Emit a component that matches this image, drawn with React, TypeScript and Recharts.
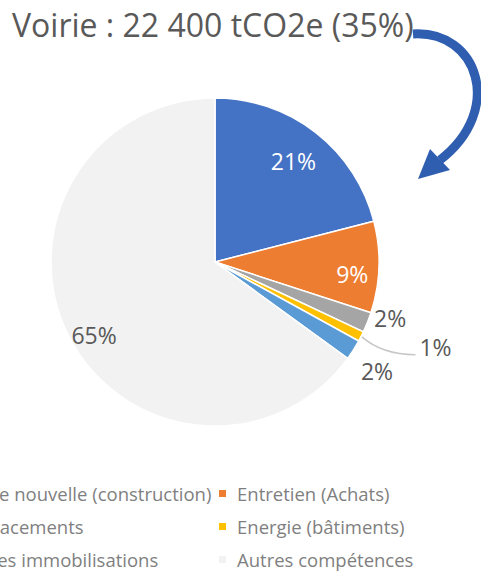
import { PieChart, Pie, Cell } from "recharts";

const categories = [
    "Voirie nouvelle (construction)",
    "Entretien (Achats)",
    "Déplacements",
    "Energie (bâtiments)",
    "Autres immobilisations",
    "Autres compétences",
];

const shares = [21, 9, 2, 1, 2, 65];

const colors = ["#4472C4", "#ED7D31", "#A5A5A5", "#FFC000", "#5B9BD5", "#F2F2F2"];

const title = "Voirie : 22 400 tCO2e (35%)";

const data = categories.map((name, i) => ({ name, value: shares[i] }));

// label placement per slice (radius factor, angle nudge in degrees, colour)
const labelStyle = [
    { r: 0.78, da: 0, fill: "#ffffff" },
    { r: 0.84, da: -3, fill: "#ffffff" },
    { r: 1.12, da: 4, fill: "#595959" },
    { r: 1.44, da: 6, fill: "#595959" },
    { r: 1.19, da: -1.5, fill: "#595959" },
    { r: 0.86, da: 4, fill: "#595959" },
];

const RAD = Math.PI / 180;

function renderLabel(props: any) {
    const { cx, cy, midAngle, outerRadius, index, value } = props;
    const s = labelStyle[index];
    const a = (midAngle + s.da) * RAD;
    const x = cx + outerRadius * s.r * Math.cos(a);
    const y = cy - outerRadius * s.r * Math.sin(a);
    let line = null;
    if (index === 3) {
        const m = midAngle * RAD;
        const x0 = cx + (outerRadius + 1) * Math.cos(m);
        const y0 = cy - (outerRadius + 1) * Math.sin(m);
        line = (
            <path
                d={`M${x0},${y0} Q${x0 + 20},${y + 8} ${x - 20},${y + 8}`}
                stroke="#C8C8C8"
                strokeWidth={1.5}
                fill="none"
            />
        );
    }
    return (
        <g key={`lbl-${index}`}>
            {line}
            <text
                x={x}
                y={y}
                fill={s.fill}
                textAnchor="middle"
                dominantBaseline="central"
                fontSize={23}
                fontFamily="Open Sans"
            >
                {value}%
            </text>
        </g>
    );
}

function LegendBlock() {
    const rowTop = 480;
    const rowH = 33;
    return (
        <div>
            {categories.map((name, i) => {
                const col = i % 2;
                const row = Math.floor(i / 2);
                const left = col === 0 ? -58 : 219;
                return (
                    <div
                        key={name}
                        style={{
                            position: "absolute",
                            left,
                            top: rowTop + row * rowH,
                            height: 26,
                            display: "flex",
                            alignItems: "center",
                            whiteSpace: "nowrap",
                            fontFamily: "Open Sans",
                            fontSize: 18.5,
                            color: "#7F7F7F",
                        }}
                    >
                        <span
                            style={{
                                width: 7,
                                height: 7,
                                background: colors[i],
                                marginRight: 11,
                                display: "inline-block",
                            }}
                        />
                        {name}
                    </div>
                );
            })}
        </div>
    );
}

export default function App() {
    return (
        <div
            style={{
                position: "absolute",
                left: 0,
                top: 0,
                width: 481,
                height: 571,
                overflow: "hidden",
                background: "#fff",
            }}
        >
            <div
                style={{
                    position: "absolute",
                    left: 12,
                    top: 3,
                    fontFamily: "Open Sans",
                    fontSize: 32,
                    color: "#595959",
                    whiteSpace: "nowrap",
                }}
            >
                {title}
            </div>

            <div style={{ position: "absolute", left: 0, top: 0 }}>
                <PieChart width={481} height={460}>
                    <Pie
                        data={data}
                        dataKey="value"
                        cx={210}
                        cy={257}
                        outerRadius={164}
                        startAngle={90}
                        endAngle={-270}
                        stroke="#ffffff"
                        strokeWidth={1.5}
                        label={renderLabel}
                        labelLine={false}
                        isAnimationActive={false}
                    >
                        {data.map((d, i) => (
                            <Cell key={d.name} fill={colors[i]} />
                        ))}
                    </Pie>
                </PieChart>
            </div>

            {/* curved arrow from title to the Voirie part */}
            <svg
                width={481}
                height={220}
                style={{ position: "absolute", left: 0, top: 0 }}
            >
                <path
                    d="M413,34 C478,30 505,110 440,160"
                    stroke="#2F5DB0"
                    strokeWidth={9}
                    fill="none"
                />
                <polygon points="418,179 450,170 430,149" fill="#2F5DB0" />
            </svg>

            <LegendBlock />
        </div>
    );
}
